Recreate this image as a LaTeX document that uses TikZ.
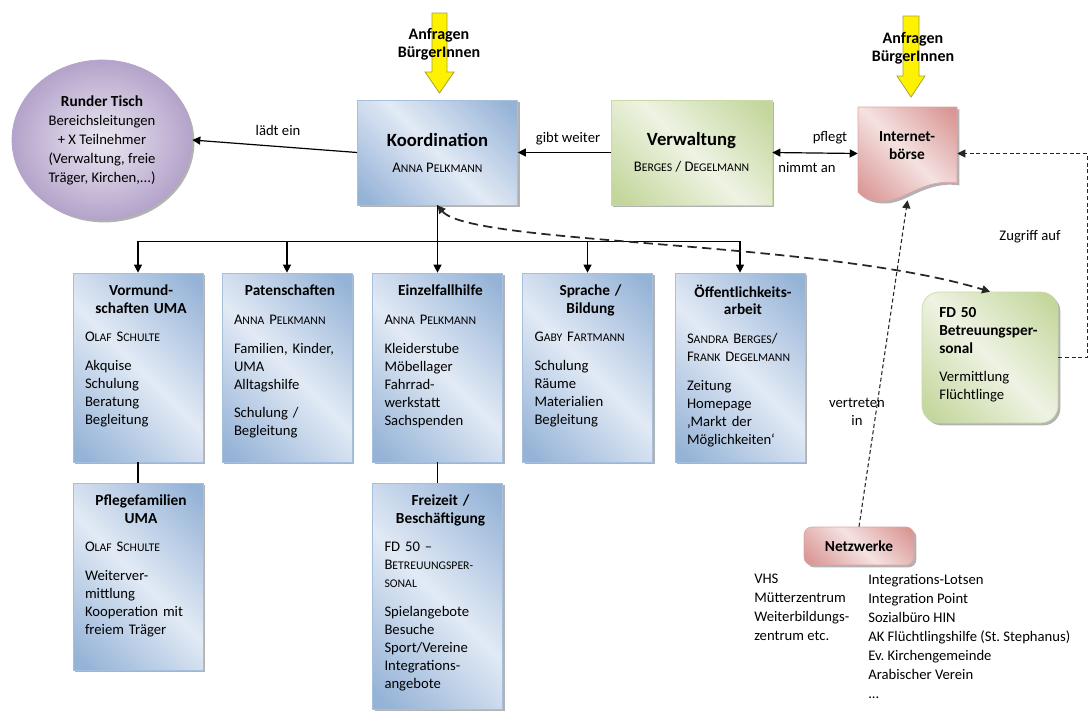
\documentclass[tikz,border=0pt]{standalone}
\usepackage{fontspec}
\setmainfont{Carlito}
\frenchspacing
\usetikzlibrary{arrows.meta,shapes.geometric,shadows,calc}
\definecolor{blueD}{HTML}{95B3D7}
\definecolor{blueL}{HTML}{E2EAF5}
\definecolor{blueB}{HTML}{A7BFDE}
\definecolor{greenD}{HTML}{C3D69B}
\definecolor{greenL}{HTML}{EEF3E3}
\definecolor{greenB}{HTML}{C9D9A8}
\definecolor{pinkD}{HTML}{D99694}
\definecolor{pinkL}{HTML}{F4E2E1}
\definecolor{pinkB}{HTML}{DDA5A3}
\definecolor{purD}{HTML}{B4A3CA}
\definecolor{purL}{HTML}{ECE8F2}
\definecolor{yelB}{HTML}{A3A33C}
\pgfdeclarehorizontalshading{bluesh}{100bp}{color(0bp)=(blueD); color(18bp)=(blueD); color(50bp)=(blueL); color(82bp)=(blueD); color(100bp)=(blueD)}
\pgfdeclarehorizontalshading{greensh}{100bp}{color(0bp)=(greenD); color(18bp)=(greenD); color(50bp)=(greenL); color(82bp)=(greenD); color(100bp)=(greenD)}
\pgfdeclarehorizontalshading{pinksh}{100bp}{color(0bp)=(pinkD); color(18bp)=(pinkD); color(50bp)=(pinkL); color(82bp)=(pinkD); color(100bp)=(pinkD)}
\newcommand\smc[1]{{\fontsize{8.8}{10}\selectfont #1}}
\newcommand\ttl[1]{{\centering\fontsize{11.5}{13}\selectfont\bfseries #1\par}\vspace{8pt}}
\newcommand\sect[1]{{\raggedright #1\par}\vspace{8pt}}
\newcommand\lst[1]{{\raggedright #1\par}}
\tikzset{
  shad/.style={drop shadow={shadow xshift=1.8pt, shadow yshift=-1.8pt, fill=black, opacity=0.3}},
  bbox/.style={shade, shading=bluesh, shading angle=45, draw=blueB, line width=0.5pt, shad, inner sep=0pt},
  gbox/.style={shade, shading=greensh, shading angle=45, draw=greenB, line width=0.5pt, shad, inner sep=0pt},
  pbox/.style={shade, shading=pinksh, shading angle=45, draw=pinkB, line width=0.5pt, shad, inner sep=0pt},
  rowbox/.style={bbox, minimum width=97.5pt, minimum height=141.75pt},
  btxt/.style={anchor=north, text width=84pt, inner sep=0pt, execute at begin node={\setlength{\parindent}{0pt}}},
  conn/.style={line width=0.9pt, draw=black},
  tipe/.style={-{Triangle[length=6pt,width=6pt]}},
  tipb/.style={{Triangle[length=6pt,width=6pt]}-{Triangle[length=6pt,width=6pt]}},
  longdash/.style={line width=1.3pt, dash pattern=on 7pt off 4pt, draw=black!85},
  shortdash/.style={line width=0.8pt, dash pattern=on 3pt off 2pt, draw=black!85},
  yarrow/.style={fill=yellow, draw=yelB, line width=0.6pt},
  lbl/.style={inner sep=1pt},
}
\begin{document}
\begin{tikzpicture}[x=0.75pt, y=-0.75pt, font=\fontsize{11}{13.5}\selectfont]
\fill[white] (0,0) rectangle (1088,711);
\useasboundingbox (0,0) rectangle (1088,711);

% yellow arrows
\draw[yarrow] (432,13) -- (447,13) -- (447,72) -- (454,72) -- (439.5,93) -- (425,72) -- (432,72) -- cycle;
\draw[yarrow] (903,16) -- (919,16) -- (919,76) -- (925,76) -- (911,97) -- (897,76) -- (903,76) -- cycle;
\node[font=\fontsize{12}{13.5}\selectfont\bfseries, align=center, inner sep=0pt] (anf1) at (439,44) {Anfragen\\BürgerInnen};
\node[font=\fontsize{12}{13.5}\selectfont\bfseries, align=center, inner sep=0pt] (anf2) at (913,48) {Anfragen\\BürgerInnen};

% Runder Tisch
\node[ellipse, inner color=purL, outer color=purD, draw=purD, line width=0.5pt, shad,
      minimum width=135pt, minimum height=120pt, inner sep=0pt, align=center,
      font=\fontsize{11}{14.25}\selectfont] (rt) at (102,140)
  {{\fontsize{11.5}{14.25}\selectfont\bfseries Runder Tisch}\\Bereichsleitungen\\+ X Teilnehmer\\(Verwaltung, freie\\Träger, Kirchen,...)};

% top row
\node[bbox, minimum width=120pt, minimum height=78.75pt, align=center] (koord) at (437.5,152.5)
  {{\fontsize{14}{17}\selectfont\bfseries Koordination}\\[6pt]A\smc{NNA} P\smc{ELKMANN}};
\node[gbox, minimum width=120.75pt, minimum height=78.75pt, align=center] (verw) at (691.5,152.5)
  {{\fontsize{14}{17}\selectfont\bfseries Verwaltung}\\[6pt]B\smc{ERGES} / D\smc{EGELMANN}};

% Internet-boerse (document shape)
\node[minimum width=74.25pt, minimum height=69.75pt, inner sep=0pt] (boerse) at (907.5,153.5) {};
\path[pbox] (858,107) -- (957,107) -- (957,183)
   .. controls (925,178) and (905,200) .. (885,201)
   .. controls (872,202) and (862,197) .. (858,192) -- cycle;
\node[font=\fontsize{11.5}{13.5}\selectfont\bfseries, align=center, inner sep=0pt] (boerseT) at (907,146) {Internet-\\börse};

% FD 50
\node[gbox, rounded corners=13pt, minimum width=102pt, minimum height=98.25pt] (fd) at (990,357.5) {};
\node[anchor=north west, text width=80pt, inner sep=0pt, execute at begin node={\setlength{\parindent}{0pt}}] (fdT) at (939,307)
  {{\raggedright\fontsize{11.5}{13.5}\selectfont\bfseries FD 50\\Betreuungsper-\\sonal\par}\vspace{8pt}\lst{Vermittlung\\Flüchtlinge}};

% Netzwerke
\node[pbox, rounded corners=6pt, minimum width=82.5pt, minimum height=28.5pt,
      font=\fontsize{11.5}{13.5}\selectfont\bfseries] (netz) at (859,546) {Netzwerke};
\node[anchor=north west, align=left, inner sep=0pt, font=\fontsize{11}{14.25}\selectfont] (nl) at (754,574)
  {VHS\\Mütterzentrum\\Weiterbildungs-\\zentrum etc.};
\node[anchor=north west, align=left, inner sep=0pt, font=\fontsize{11}{14.25}\selectfont] (nr) at (868,574)
  {Integrations-Lotsen\\Integration Point\\Sozialbüro HIN\\AK Flüchtlingshilfe (St. Stephanus)\\Ev. Kirchengemeinde\\Arabischer Verein\\...};

% row boxes
\node[rowbox] (vor) at (138,367.5) {};
\node[rowbox] (pat) at (287,367.5) {};
\node[rowbox] (ein) at (437.5,367.5) {};
\node[rowbox] (spr) at (587.5,367.5) {};
\node[rowbox] (oef) at (740,367.5) {};
\node[bbox, minimum width=97.5pt, minimum height=140.25pt] (pfl) at (138,576.5) {};
\node[bbox, minimum width=97.5pt, minimum height=169.5pt] (frz) at (437.5,596) {};

\node[btxt] (vorT) at ($(vor.north)+(3,12)$)
  {\ttl{Vormund-\\schaften UMA}\sect{O\smc{LAF} S\smc{CHULTE}}\lst{Akquise\\Schulung\\Beratung\\Begleitung}};
\node[btxt] (patT) at ($(pat.north)+(3,12)$)
  {\ttl{Patenschaften}\sect{A\smc{NNA} P\smc{ELKMANN}}\sect{Familien, Kinder,\\UMA\\Alltagshilfe}\lst{Schulung /\\Begleitung}};
\node[btxt] (einT) at ($(ein.north)+(3,12)$)
  {\ttl{Einzelfallhilfe}\sect{A\smc{NNA} P\smc{ELKMANN}}\lst{Kleiderstube\\Möbellager\\Fahrrad-\\werkstatt\\Sachspenden}};
\node[btxt] (sprT) at ($(spr.north)+(3,12)$)
  {\ttl{Sprache /\\Bildung}\sect{G\smc{ABY} F\smc{ARTMANN}}\lst{Schulung\\Räume\\Materialien\\Begleitung}};
\node[btxt] (oefT) at ($(oef.north)+(3,12)$)
  {\ttl{Öffentlichkeits-\\arbeit}\sect{S\smc{ANDRA} B\smc{ERGES}/\\F\smc{RANK} D\smc{EGELMANN}}\lst{Zeitung\\Homepage\\‚Markt der\\Möglichkeiten‘}};
\node[btxt] (pflT) at ($(pfl.north)+(3,12)$)
  {\ttl{Pflegefamilien\\UMA}\sect{O\smc{LAF} S\smc{CHULTE}}\lst{Weiterver-\\mittlung\\Kooperation mit\\freiem Träger}};
\node[btxt] (frzT) at ($(frz.north)+(3,12)$)
  {\ttl{Freizeit /\\Beschäftigung}\sect{FD 50 –\\B\smc{ETREUUNGSPER-}\\ \smc{SONAL}}\lst{Spielangebote\\Besuche\\Sport/Vereine\\Integrations-\\angebote}};

% connectors
\draw[conn, tipe] (koord.west) -- (rt.east);
\draw[conn, tipe] (verw.west) -- (koord.east);
\draw[conn, tipb] (verw.east) -- (boerse.west);
\node[lbl] (lad) at (278,130) {lädt ein};
\node[lbl] (gib) at (568,139) {gibt weiter};
\node[lbl] (pfg) at (830,138) {pflegt};
\node[lbl] (nim) at (807,168) {nimmt an};

\foreach \b in {vor,pat,ein,spr,oef}
  \draw[conn, tipe] (koord.south) -- ++(0,36) -| (\b.north);
\draw[conn] (vor.south) -- (pfl.north);
\draw[conn] (ein.south) -- (frz.north);

\draw[longdash, tipb] (koord.south) .. controls (470,245) and (820,240) .. (fd.north);
\draw[shortdash, tipe] (fd.east) -- ++(29,0) |- (boerse.east);
\node[lbl] (zug) at (1030,237) {Zugriff auf};
\draw[shortdash, tipe] (netz.north) -- (boerse.south);
\node[lbl, align=center, font=\fontsize{11}{14}\selectfont] (ver) at (857,412) {vertreten\\in};
\end{tikzpicture}
\end{document}
